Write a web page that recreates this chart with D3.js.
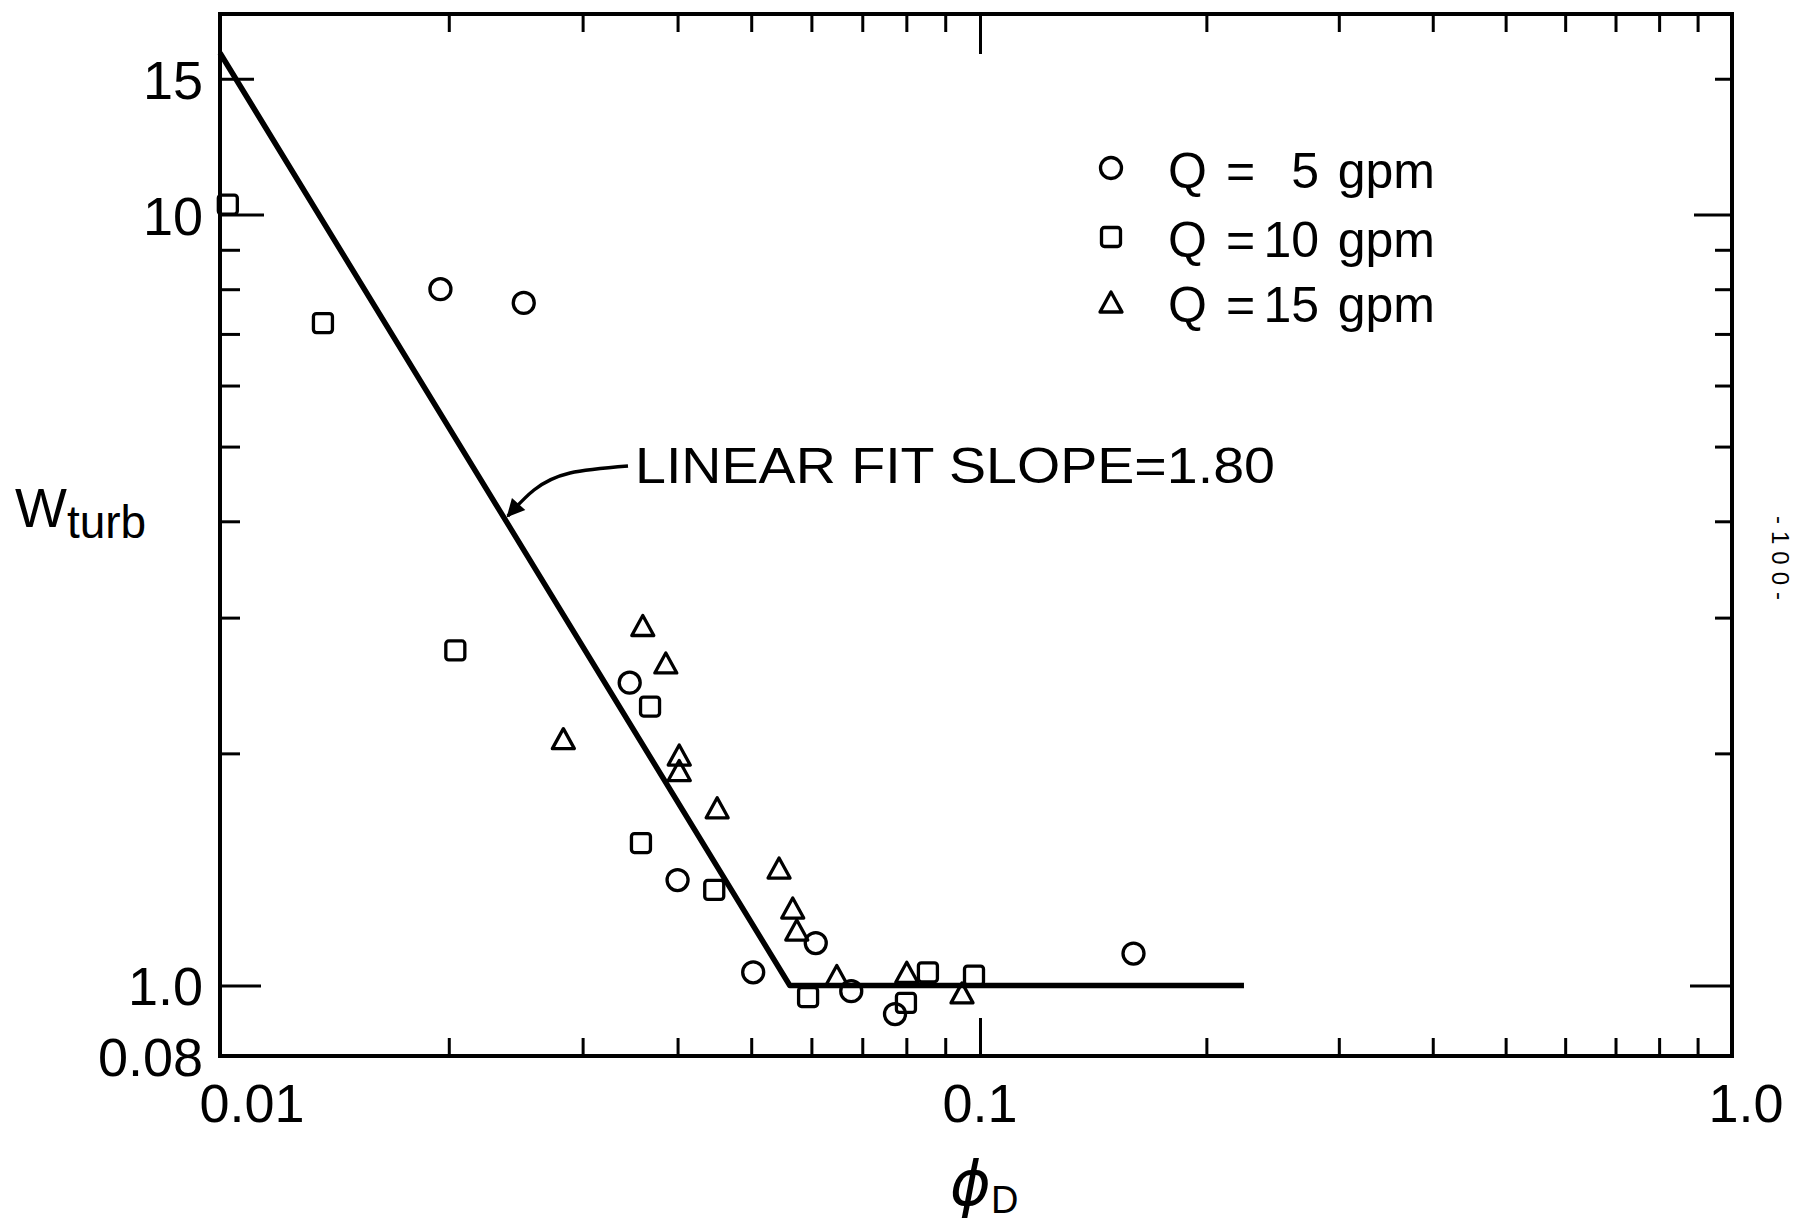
<!DOCTYPE html>
<html>
<head>
<meta charset="utf-8">
<script src="https://cdn.jsdelivr.net/npm/d3@7"></script>
<style>
body { margin: 0; background: #fff; }
svg text { font-family: "Liberation Sans", Arial, sans-serif; fill: #000; }
</style>
</head>
<body>
<div id="vis"></div>
<script>
// data (phi_D, W_turb)
const circlePhi = [0.0195, 0.0251, 0.0346, 0.0400, 0.0503, 0.0608, 0.0677, 0.0773, 0.160];
const circleW   = [8.00, 7.68, 2.47, 1.37, 1.04, 1.135, 0.983, 0.918, 1.10];

const squarePhi = [0.01024, 0.01366, 0.0204, 0.0368, 0.0358, 0.0447, 0.0594, 0.0799, 0.0854, 0.0982];
const squareW   = [10.3, 7.23, 2.72, 2.30, 1.53, 1.33, 0.966, 0.949, 1.04, 1.03];

const triPhi = [0.0283, 0.0360, 0.0386, 0.0402, 0.0402, 0.0451, 0.0544, 0.0567, 0.0574, 0.0648, 0.0801, 0.0947];
const triW   = [2.09, 2.93, 2.62, 1.99, 1.90, 1.70, 1.42, 1.26, 1.18, 1.03, 1.04, 0.978];

// fitted line (two pieces)
const fitPhi = [0.01, 0.0562, 0.2244];
const fitW   = [16.2, 1.0, 1.0];

// ticks
const xMinor = [0.02, 0.03, 0.04, 0.05, 0.06, 0.07, 0.08, 0.09, 0.2, 0.3, 0.4, 0.5, 0.6, 0.7, 0.8, 0.9];
const xMajor = [0.1];
const yMinor = [2, 3, 4, 5, 6, 7, 8, 9];
const xLabels = [{v: 0.01, t: "0.01"}, {v: 0.1, t: "0.1"}, {v: 1, t: "1.0"}];
const yLabels = [{v: 0.81, t: "0.08"}, {v: 1, t: "1.0"}, {v: 10, t: "10"}, {v: 15, t: "15"}];

const legendNums = ["5", "10", "15"];

const WIDTH = 1800, HEIGHT = 1223;

const svg = d3.select("#vis").append("svg")
    .attr("width", WIDTH)
    .attr("height", HEIGHT);

// paper axes are hand drawn: decades are not quite equal
const X_SCALE = d3.scaleLog().domain([0.01, 0.1, 1]).range([220, 980, 1732]);
const Y_SCALE = d3.scaleLog().domain([0.81, 18.2]).range([1056, 14]);

const LEFT = X_SCALE(0.01), RIGHT = X_SCALE(1);
const TOP = Y_SCALE(18.2), BOTTOM = Y_SCALE(0.81);

function tickAxis(axis, len, tr) {
    svg.append("g")
        .attr("transform", tr)
        .call(axis.tickSizeInner(len).tickSizeOuter(0).tickFormat(""))
        .call(g => g.select(".domain").remove())
        .call(g => g.selectAll("line").attr("stroke", "#000").attr("stroke-width", 3));
}

// x ticks, bottom and top, pointing inward
tickAxis(d3.axisBottom(X_SCALE).tickValues(xMinor), -18, `translate(0,${BOTTOM})`);
tickAxis(d3.axisBottom(X_SCALE).tickValues(xMajor), -38, `translate(0,${BOTTOM})`);
tickAxis(d3.axisTop(X_SCALE).tickValues(xMinor), -18, `translate(0,${TOP})`);
tickAxis(d3.axisTop(X_SCALE).tickValues(xMajor), -40, `translate(0,${TOP})`);

// y ticks
tickAxis(d3.axisLeft(Y_SCALE).tickValues(yMinor), -20, `translate(${LEFT},0)`);
tickAxis(d3.axisLeft(Y_SCALE).tickValues([1]), -41, `translate(${LEFT},0)`);
tickAxis(d3.axisLeft(Y_SCALE).tickValues([10]), -44, `translate(${LEFT},0)`);
tickAxis(d3.axisLeft(Y_SCALE).tickValues([15]), -34, `translate(${LEFT},0)`);
tickAxis(d3.axisRight(Y_SCALE).tickValues(yMinor.concat([15])), -17, `translate(${RIGHT},0)`);
tickAxis(d3.axisRight(Y_SCALE).tickValues([10]), -38, `translate(${RIGHT},0)`);
tickAxis(d3.axisRight(Y_SCALE).tickValues([1]), -42, `translate(${RIGHT},0)`);

// frame
svg.append("rect")
    .attr("x", LEFT).attr("y", TOP)
    .attr("width", RIGHT - LEFT).attr("height", BOTTOM - TOP)
    .attr("fill", "none").attr("stroke", "#000").attr("stroke-width", 4);

// tick labels
svg.selectAll(".xlab").data(xLabels).enter().append("text")
    .attr("class", "xlab")
    .attr("x", (d) => X_SCALE(d.v) + (d.v == 0.01 ? 32 : d.v == 1 ? 14 : 0))
    .attr("y", BOTTOM + 66)
    .attr("text-anchor", "middle")
    .attr("font-size", "54px")
    .text((d) => d.t);

svg.selectAll(".ylab").data(yLabels).enter().append("text")
    .attr("class", "ylab")
    .attr("x", LEFT - 17)
    .attr("y", (d) => Y_SCALE(d.v) + 20)
    .attr("text-anchor", "end")
    .attr("font-size", "54px")
    .text((d) => d.t);

// axis titles
const yt = svg.append("text").attr("x", 15).attr("y", 527).attr("font-size", "55px");
yt.append("tspan").text("W");
yt.append("tspan").attr("dy", 11).attr("font-size", "46px").text("turb");

const xt = svg.append("text").attr("x", 950).attr("y", 1205);
xt.append("tspan").attr("font-family", "DejaVu Sans").attr("font-style", "italic")
    .attr("font-size", "62px").text("ϕ");
xt.append("tspan").attr("dy", 8).attr("font-size", "38px").text("D");

// fit line
const line = d3.line().x((d) => X_SCALE(d[0])).y((d) => Y_SCALE(d[1]));
svg.append("path")
    .datum(d3.zip(fitPhi, fitW))
    .attr("d", line)
    .attr("fill", "none").attr("stroke", "#000").attr("stroke-width", 5.5)
    .attr("stroke-linejoin", "round");

// annotation with curved arrow to the sloped part
svg.append("defs").append("marker")
    .attr("id", "head")
    .attr("viewBox", "0 0 10 10").attr("refX", 9).attr("refY", 5)
    .attr("markerWidth", 26).attr("markerHeight", 18)
    .attr("markerUnits", "userSpaceOnUse")
    .attr("orient", "auto")
    .append("path").attr("d", "M0,0 L10,5 L0,10 Z").attr("fill", "#000");

const tipPhi = 0.0237;
const t = (X_SCALE(tipPhi) - X_SCALE(fitPhi[0])) / (X_SCALE(fitPhi[1]) - X_SCALE(fitPhi[0]));
const tip = [X_SCALE(tipPhi), Y_SCALE(fitW[0]) + t * (Y_SCALE(fitW[1]) - Y_SCALE(fitW[0]))];
svg.append("path")
    .attr("d", d3.line().curve(d3.curveNatural)([[628, 466], [570, 473], [534, 490], [tip[0] + 3, tip[1] - 3]]))
    .attr("fill", "none").attr("stroke", "#000").attr("stroke-width", 3.5)
    .attr("marker-end", "url(#head)");

svg.append("text")
    .attr("x", 635).attr("y", 483)
    .attr("font-size", "50px")
    .attr("textLength", 640).attr("lengthAdjust", "spacingAndGlyphs")
    .text("LINEAR FIT SLOPE=1.80");

// markers
function triPath(cx, cy) {
    return `M${cx},${cy - 10}L${cx + 11},${cy + 10}L${cx - 11},${cy + 10}Z`;
}
const mk = {fill: "none", stroke: "#000", sw: 3.3};

svg.append("g").selectAll("circle")
    .data(d3.zip(circlePhi, circleW)).enter().append("circle")
    .attr("cx", (d) => X_SCALE(d[0])).attr("cy", (d) => Y_SCALE(d[1]))
    .attr("r", 10.5)
    .attr("fill", mk.fill).attr("stroke", mk.stroke).attr("stroke-width", mk.sw);

svg.append("g").selectAll("rect")
    .data(d3.zip(squarePhi, squareW)).enter().append("rect")
    .attr("x", (d) => X_SCALE(d[0]) - 9.5).attr("y", (d) => Y_SCALE(d[1]) - 9.5)
    .attr("width", 19).attr("height", 19).attr("rx", 3)
    .attr("fill", mk.fill).attr("stroke", mk.stroke).attr("stroke-width", mk.sw);

svg.append("g").selectAll("path")
    .data(d3.zip(triPhi, triW)).enter().append("path")
    .attr("d", (d) => triPath(X_SCALE(d[0]), Y_SCALE(d[1])))
    .attr("fill", mk.fill).attr("stroke", mk.stroke).attr("stroke-width", mk.sw)
    .attr("stroke-linejoin", "round");

// legend
const LEG_Y = [188, 257, 322];
const lg = svg.append("g").attr("font-size", "50px");
LEG_Y.forEach((by, i) => {
    const cy = by - 20, cx = 1111;
    if (i == 0) {
        lg.append("circle").attr("cx", cx).attr("cy", cy).attr("r", 10.5)
          .attr("fill", "none").attr("stroke", "#000").attr("stroke-width", 3.3);
    } else if (i == 1) {
        lg.append("rect").attr("x", cx - 9.5).attr("y", cy - 9.5).attr("width", 19).attr("height", 19).attr("rx", 3)
          .attr("fill", "none").attr("stroke", "#000").attr("stroke-width", 3.3);
    } else {
        lg.append("path").attr("d", triPath(cx, cy))
          .attr("fill", "none").attr("stroke", "#000").attr("stroke-width", 3.3).attr("stroke-linejoin", "round");
    }
    lg.append("text").attr("x", 1168).attr("y", by).text("Q");
    lg.append("text").attr("x", 1226).attr("y", by).text("=");
    lg.append("text").attr("x", 1319).attr("y", by).attr("text-anchor", "end").text(legendNums[i]);
    lg.append("text").attr("x", 1435).attr("y", by).attr("text-anchor", "end").text("gpm");
});

// page number in the margin
svg.append("text")
    .attr("transform", "translate(1772,516) rotate(90)")
    .attr("font-size", "24px")
    .attr("textLength", 84).attr("lengthAdjust", "spacing")
    .text("-100-");
</script>
</body>
</html>
